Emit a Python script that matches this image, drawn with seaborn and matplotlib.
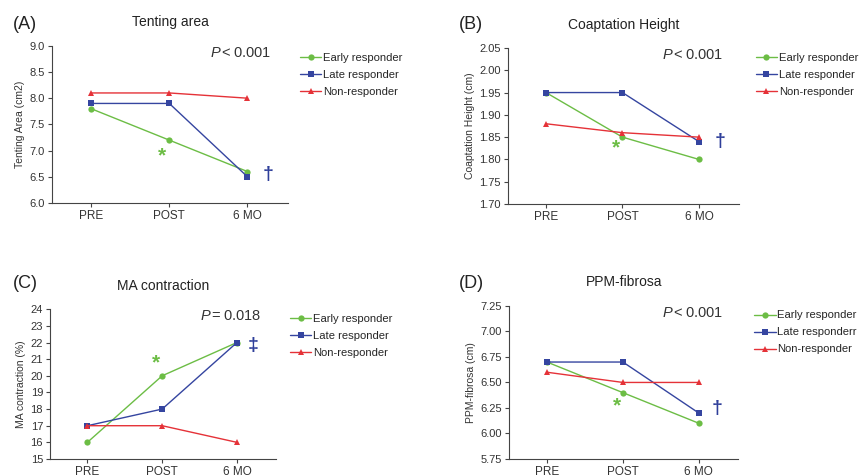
import matplotlib
matplotlib.use("Agg")
import matplotlib.pyplot as plt
import seaborn as sns
import pandas as pd

sns.set_theme(style="ticks")
plt.rcParams['font.family'] = ['Liberation Sans', 'DejaVu Sans']
plt.rcParams['mathtext.fontset'] = 'custom'
plt.rcParams['mathtext.it'] = 'Liberation Sans:italic'
plt.rcParams['mathtext.rm'] = 'Liberation Sans'

timepoints = ["PRE", "POST", "6 MO"]
groups = ["Early responder", "Late responder", "Non-responder"]

tenting_early = [7.8, 7.2, 6.6]
tenting_late = [7.9, 7.9, 6.5]
tenting_non = [8.1, 8.1, 8.0]

coapt_early = [1.95, 1.85, 1.80]
coapt_late = [1.95, 1.95, 1.84]
coapt_non = [1.88, 1.86, 1.85]

ma_early = [16, 20, 22]
ma_late = [17, 18, 22]
ma_non = [17, 17, 16]

ppm_early = [6.7, 6.4, 6.1]
ppm_late = [6.7, 6.7, 6.2]
ppm_non = [6.6, 6.5, 6.5]

colors = {"Early responder": "#6cbd45", "Late responder": "#3545a0", "Non-responder": "#e53238"}
markers = {"Early responder": "o", "Late responder": "s", "Non-responder": "^"}

panels = [
    dict(tag="(A)", tagpos=(13 / 862, 1 - 33 / 475), title="Tenting area", ylabel="Tenting Area (cm2)",
         series=[tenting_early, tenting_late, tenting_non],
         yticks=[6.0, 6.5, 7.0, 7.5, 8.0, 8.5, 9.0], fmt="{:.1f}",
         ptext="<0.001", pos=[0.0603, 0.5726, 0.274, 0.331],
         star=(0.9, 6.9), dag=("†", 2.26, 6.55), legend_labels=groups, leg=(0.05, 0.955)),
    dict(tag="(B)", tagpos=(459 / 862, 1 - 33 / 475), title="Coaptation Height", ylabel="Coaptation Height (cm)",
         series=[coapt_early, coapt_late, coapt_non],
         yticks=[1.70, 1.75, 1.80, 1.85, 1.90, 1.95, 2.00, 2.05], fmt="{:.2f}",
         ptext="<0.001", pos=[0.589, 0.5705, 0.268, 0.3285],
         star=(0.92, 1.826), dag=("†", 2.28, 1.84), legend_labels=groups, leg=(0.073, 0.97)),
    dict(tag="(C)", tagpos=(13 / 862, 1 - 292 / 475), title="MA contraction", ylabel="MA contraction (%)",
         series=[ma_early, ma_late, ma_non],
         yticks=list(range(15, 25)), fmt="{:d}",
         ptext="=0.018", pos=[0.058, 0.0337, 0.262, 0.3153],
         star=(0.92, 20.75), dag=("‡", 2.21, 21.8), legend_labels=groups, leg=(0.062, 0.97)),
    dict(tag="(D)", tagpos=(459 / 862, 1 - 292 / 475), title="PPM-fibrosa", ylabel="PPM-fibrosa (cm)",
         series=[ppm_early, ppm_late, ppm_non],
         yticks=[5.75, 6.00, 6.25, 6.50, 6.75, 7.00, 7.25], fmt="{:.2f}",
         ptext="<0.001", pos=[0.5905, 0.0337, 0.266, 0.3223],
         star=(0.92, 6.27), dag=("†", 2.24, 6.24),
         legend_labels=["Early responder", "Late responderr", "Non-responder"], leg=(0.07, 0.97)),
]

fig = plt.figure(figsize=(8.62, 4.75), dpi=100)

for p in panels:
    ax = fig.add_axes(p["pos"])
    rows = []
    for g, vals in zip(groups, p["series"]):
        for t, v in zip(timepoints, vals):
            rows.append({"time": t, "value": v, "group": g})
    df = pd.DataFrame(rows)
    sns.lineplot(data=df, x="time", y="value", hue="group", style="group",
                 palette=colors, markers=markers, dashes=False, markersize=4.5,
                 markeredgewidth=0, linewidth=1.0, ax=ax, sort=False)
    ax.set_xlim(-0.5, 2.52)
    ax.set_ylim(p["yticks"][0], p["yticks"][-1])
    ax.set_yticks(p["yticks"])
    ax.set_yticklabels([p["fmt"].format(v) for v in p["yticks"]], fontsize=8, color="#333333")
    ax.set_xticks([0, 1, 2])
    ax.set_xticklabels(timepoints, fontsize=8.5, color="#333333")
    ax.set_xlabel("")
    ax.set_ylabel(p["ylabel"], fontsize=7.5, color="#333333", labelpad=3)
    for s in ["top", "right"]:
        ax.spines[s].set_visible(False)
    for s in ["left", "bottom"]:
        ax.spines[s].set_color("#444444")
        ax.spines[s].set_linewidth(0.8)
    ax.tick_params(axis="both", length=3, width=0.8, color="#444444", pad=2)
    ax.set_title(p["title"], fontsize=10, color="#222222", pad=14)
    fig.text(p["tagpos"][0], p["tagpos"][1], p["tag"], fontsize=13, color="#222222",
             ha="left", va="bottom")
    ax.text(0.80, 0.955, r"$P\,$" + p["ptext"][0] + "\u2009" + p["ptext"][1:], transform=ax.transAxes,
            fontsize=10.5, color="#333333", ha="center", va="center")
    ax.text(p["star"][0], p["star"][1], "*", color=colors["Early responder"], fontsize=15,
            ha="center", va="center", fontweight="bold")
    ax.text(p["dag"][1], p["dag"][2], p["dag"][0], color="#2f3f9a", fontsize=14,
            ha="center", va="center", fontweight="bold")
    h, l = ax.get_legend_handles_labels()
    ax.legend(h, p["legend_labels"], loc="upper left",
              bbox_to_anchor=(1 + p["leg"][0], p["leg"][1]),
              frameon=False, fontsize=8.1, handlelength=1.9, handletextpad=0.15,
              labelspacing=0.62, borderaxespad=0.0, borderpad=0.0)

fig.savefig("out.png", dpi=100)
